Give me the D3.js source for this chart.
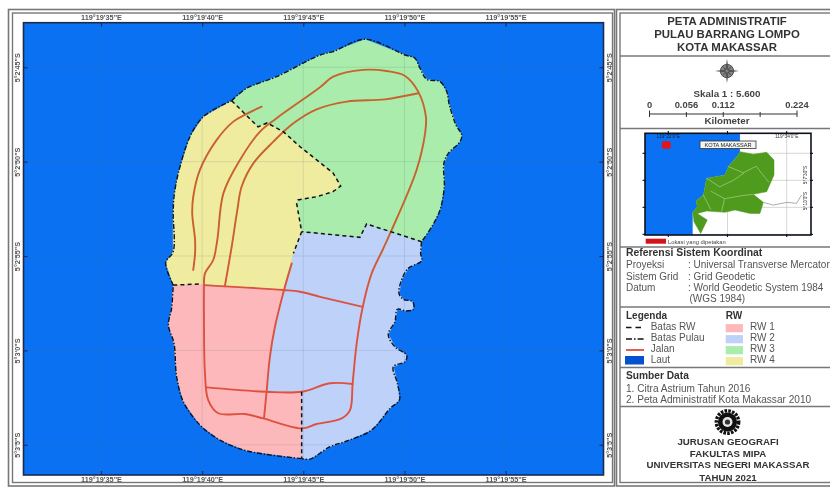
<!DOCTYPE html>
<html><head><meta charset="utf-8">
<style>
html,body{margin:0;padding:0;background:#fff}
svg{display:block;filter:blur(0.45px)}
text{font-family:"Liberation Sans",Arial,sans-serif;fill:#333}
</style>
<script src="https://cdn.jsdelivr.net/npm/d3@7/dist/d3.min.js"></script>
</head><body><svg id="c" width="830" height="487"></svg>
<script>
// ---- Map data: [longitude seconds after 119°19', latitude seconds after 5°2'] ----
const lonTicks=[35,40,45,50,55];
const lonLabels=['119°19\'35"E','119°19\'40"E','119°19\'45"E','119°19\'50"E','119°19\'55"E'];
const latTicks=[45,50,55,60,65];
const latLabels=['5°2\'45"S','5°2\'50"S','5°2\'55"S','5°3\'0"S','5°3\'5"S'];

const coastRW3=[[41.46,46.77],[42.20,46.11],[43.68,45.50],[45.83,44.35],[46.48,44.17],[48.05,43.52],[50.03,44.35],[50.52,44.52],[50.77,45.05],[51.10,45.64],[51.76,45.76],[52.09,46.29],[52.22,47.00],[52.55,48.06],[52.83,48.59],[52.75,48.94],[52.17,49.56],[51.95,50.09],[51.97,51.33],[51.76,52.56],[51.35,53.45],[50.85,54.24]];
const coastRW2=[[50.85,54.24],[50.80,54.86],[50.85,55.25],[50.19,55.65],[49.86,56.27],[49.73,56.98],[49.94,57.29],[50.41,57.42],[50.44,57.82],[50.08,57.91],[49.65,57.82],[49.53,58.48],[49.20,59.15],[49.53,59.81],[50.11,60.25],[50.03,60.60],[49.45,60.87],[49.65,61.74],[49.75,62.63],[49.29,63.07],[48.38,64.22],[47.15,64.80],[46.32,65.10],[45.33,65.76],[44.92,65.73]];
const coastRW1=[[44.92,65.73],[42.20,65.32],[40.88,64.75],[39.89,63.95],[39.07,62.72],[38.74,61.40],[38.61,59.63],[38.33,58.66],[38.49,57.77],[38.57,56.54]];
const coastRW4=[[38.57,56.54],[38.20,55.35],[38.57,54.77],[38.57,52.74],[38.61,51.86],[38.82,50.62],[39.40,48.68],[40.06,47.62],[41.46,46.77]];

const border34=[[41.46,46.77],[42.76,48.16],[43.21,47.95],[44.01,48.41],[44.84,49.21],[45.66,49.91],[46.47,50.60],[46.85,51.29],[46.47,51.59],[45.66,51.86],[44.74,52.03],[44.67,52.21],[44.92,53.71]];
const border24=[[44.92,53.71],[44.51,54.86],[44.01,56.80]];
const border14=[[44.01,56.80],[39.98,56.48],[38.57,56.54]];
const border23=[[50.85,54.24],[48.13,53.30],[47.80,54.01],[44.92,53.71]];
const border12=[[44.01,56.80],[43.60,58.75],[43.35,60.34],[43.19,62.14],[44.92,62.19],[44.92,65.73]];
const dashedWest=[[38.57,56.54],[39.98,56.48]];
const dashedSouth=[[44.92,62.19],[44.92,65.73]];

const roadWest=[[42.94,47.09],[42.20,47.47],[41.54,47.88],[40.72,48.85],[39.89,50.44],[39.56,51.86],[39.51,52.74],[39.65,54.15],[39.65,54.86],[39.56,55.74]];
const roadRing=[[40.09,56.54],[40.14,55.92],[40.55,55.21],[40.75,54.15],[41.05,51.68],[41.87,49.91],[42.86,48.41],[43.68,47.70],[45.83,46.06],[46.48,45.50],[47.97,45.14],[49.12,45.20],[50.03,45.46],[50.68,46.29],[51.06,47.62],[51.02,48.50],[50.60,50.44],[49.37,53.62],[48.92,54.68],[48.38,55.92],[47.94,57.69],[47.64,59.63],[47.44,61.74],[47.31,63.16],[46.90,63.60],[45.66,63.90],[44.92,64.13],[43.02,63.60],[42.12,63.37],[40.80,63.33],[40.30,62.63],[40.14,61.22],[40.09,58.22],[40.09,56.54]];
const roadInner=[[50.68,46.38],[49.04,46.70],[47.15,46.82],[45.66,47.23],[44.51,47.97],[43.52,48.94],[42.53,50.09],[41.95,51.33],[41.74,52.56],[41.46,54.51],[41.13,56.56]];
const roadCross=[[40.09,56.54],[44.01,56.80],[44.84,56.89],[45.83,57.16],[47.94,57.69]];
const roadSpine=[[44.43,55.39],[44.05,56.80],[43.60,58.75],[43.35,60.34],[43.19,62.14],[43.06,63.58]];
const roadSouth=[[40.22,61.96],[43.14,62.19],[44.92,62.19],[46.32,61.74],[47.44,61.78]];

// ---- Scale bar ----
const scaleTicks=[0,0.056,0.112,0.168,0.224];
const scaleLabels=[0,0.056,0.112,0.224];

// ---- Inset data: [minutes after 119°, minutes after 5°] ----
const insetLonTicks=[22,28,34];
const insetLatTicks=[2.5,5,7.5,10];
const insetLand=[[29.26,2.35],[29.09,2.65],[28.08,3.73],[27.74,4.51],[25.89,4.81],[25.55,6.36],[24.80,6.91],[24.94,7.44],[24.47,7.96],[24.60,8.83],[25.28,9.91],[25.95,8.67],[24.94,8.06],[25.89,7.84],[27.74,7.96],[28.76,7.75],[30.28,8.06],[31.29,8.06],[31.63,7.04],[30.61,6.30],[31.97,6.05],[32.71,4.51],[32.71,3.12],[31.97,2.41],[30.61,2.59]];
const insetCoast=[[29.26,0.65],[29.26,2.35],[29.09,2.65],[28.08,3.73],[27.74,4.51],[25.89,4.81],[25.55,6.36],[24.80,6.91],[24.94,7.44],[24.47,7.96],[24.47,10.06],[19.64,10.06],[19.64,0.65]];
const insetRiver=[[31.63,7.04],[32.64,7.29],[34,7.04],[35,7.13],[35.5,6.36]];
const insetDistricts=[[[28.08,3.73],[29.6,4.3],[30.9,3.7],[32.2,5.2]],[[25.89,4.81],[27.2,5.6],[28.6,5.0],[29.7,4.3]],[[26.3,6.0],[27.7,6.7],[29.6,6.4],[30.61,6.30]],[[25.55,6.36],[26.3,7.7]],[[27.7,6.7],[27.4,7.9]]];
const studySite=[[21.8,1.73]];

// ---- Legend lists ----
const titleLines=['PETA ADMINISTRATIF','PULAU BARRANG LOMPO','KOTA MAKASSAR'];
const rwNames=['RW 1','RW 2','RW 3','RW 4'];
const rwColors=['#fdb8bb','#bdd1f9','#a9ecab','#efec9f'];
const lineNames=['Batas RW','Batas Pulau','Jalan','Laut'];
const footerLines=['JURUSAN GEOGRAFI','FAKULTAS MIPA','UNIVERSITAS NEGERI MAKASSAR','TAHUN 2021'];
const sourceLines=['1. Citra Astrium Tahun 2016','2. Peta Administratif Kota Makassar 2010'];

const svg=d3.select('#c');
const SEA='#0a72f2', FRAME='#1b2a4e', GRAY='#777';
const grad=svg.append('defs').append('linearGradient').attr('id','roadTone').attr('gradientUnits','userSpaceOnUse').attr('x1',0).attr('x2',0).attr('y1',0).attr('y2',487);
[[0,'#c8642e'],[0.5,'#c9602e'],[0.6,'#dc5240'],[1,'#e0503e']].forEach(s=>grad.append('stop').attr('offset',s[0]).attr('stop-color',s[1]));
const ROAD='url(#roadTone)';

// ---- neatlines ----
function rect(x,y,w,h,s,sw){svg.append('rect').attr('x',x).attr('y',y).attr('width',w).attr('height',h).attr('fill','none').attr('stroke',s).attr('stroke-width',sw);}
rect(8.5,9.5,606,476.5,GRAY,1.6);
rect(12.5,13,600,469.5,GRAY,1.4);
rect(616.5,9.5,216,476.5,GRAY,1.6);
rect(620,13,216,469.5,GRAY,1.4);

// ---- main map ----
const x=d3.scaleLinear().domain([31.17,59.84]).range([23.5,603.5]);
const y=d3.scaleLinear().domain([42.64,66.60]).range([22.7,475]);
const g=svg.append('g');
g.append('rect').attr('x',x(31.17)).attr('y',y(42.64)).attr('width',x(59.84)-x(31.17)).attr('height',y(66.60)-y(42.64)).attr('fill',SEA);
const line=d3.line().x(d=>x(d[0])).y(d=>y(d[1]));
const smooth=d3.line().x(d=>x(d[0])).y(d=>y(d[1])).curve(d3.curveCatmullRom.alpha(0.5));
const rev=a=>a.slice().reverse();
const polys=[
 [rwColors[0],[...coastRW1,...rev(border14),...border12]],
 [rwColors[1],[...coastRW2,...rev(border12),...rev(border24),...rev(border23)]],
 [rwColors[2],[...coastRW3,...border23,...rev(border34)]],
 [rwColors[3],[...coastRW4,...border34,...border24,...border14]]
];
g.selectAll('path.rw').data(polys).join('path').attr('class','rw')
 .attr('d',d=>line(d[1])+'Z').attr('fill',d=>d[0]).attr('stroke',d=>d[0]).attr('stroke-width',0.5);
// graticule
lonTicks.forEach(t=>g.append('line').attr('x1',x(t)).attr('x2',x(t)).attr('y1',y.range()[0]).attr('y2',y.range()[1]).attr('stroke','#5a6e80').attr('stroke-opacity',0.2).attr('stroke-width',0.8));
latTicks.forEach(t=>g.append('line').attr('y1',y(t)).attr('y2',y(t)).attr('x1',x.range()[0]).attr('x2',x.range()[1]).attr('stroke','#5a6e80').attr('stroke-opacity',0.2).attr('stroke-width',0.8));
// roads
[roadWest,roadRing,roadInner,roadCross,roadSpine,roadSouth].forEach(r=>g.append('path').attr('d',smooth(r)).attr('fill','none').attr('stroke',ROAD).attr('stroke-width',1.9).attr('stroke-linejoin','round').attr('stroke-linecap','round'));
// administrative boundaries
[[...border34,...border24.slice(1,2)],border23,dashedWest,dashedSouth].forEach(b=>g.append('path').attr('d',line(b)).attr('fill','none').attr('stroke','#111').attr('stroke-width',1.5).attr('stroke-dasharray','4 3.2'));
// coast
[...[coastRW3,coastRW2,coastRW1,coastRW4]].forEach(c=>g.append('path').attr('d',smooth(c)).attr('fill','none').attr('stroke','#0d1420').attr('stroke-width',1.4).attr('stroke-dasharray','5 1.8 1.4 1.8'));
// frame + axes
g.append('rect').attr('x',x.range()[0]).attr('y',y.range()[0]).attr('width',x.range()[1]-x.range()[0]).attr('height',y.range()[1]-y.range()[0]).attr('fill','none').attr('stroke',FRAME).attr('stroke-width',1.6);
const lonFmt=(d,i)=>lonLabels[i], latFmt=(d,i)=>latLabels[i];
function style(a){a.select('.domain').remove();a.selectAll('.tick line').attr('stroke',FRAME).attr('stroke-width',1.1);a.selectAll('text').attr('font-size',7.3).attr('font-weight',700).attr('font-family','"Liberation Sans"').style('fill','#555');}
svg.append('g').attr('transform',`translate(0,${y.range()[0]})`).call(d3.axisTop(x).tickValues(lonTicks).tickFormat(lonFmt).tickSizeInner(-4).tickSizeOuter(0).tickPadding(2.7)).call(style);
svg.append('g').attr('transform',`translate(0,${y.range()[1]})`).call(d3.axisBottom(x).tickValues(lonTicks).tickFormat(lonFmt).tickSizeInner(-4).tickSizeOuter(0).tickPadding(2.3)).call(style);
const la=svg.append('g').attr('transform',`translate(${x.range()[0]},0)`).call(d3.axisLeft(y).tickValues(latTicks).tickFormat(latFmt).tickSizeInner(-4).tickSizeOuter(0).tickPadding(0)).call(style);
la.selectAll('text').attr('x',null).attr('dy',null).attr('text-anchor','middle').attr('transform','translate(-3.5,0) rotate(-90)');
const ra=svg.append('g').attr('transform',`translate(${x.range()[1]},0)`).call(d3.axisRight(y).tickValues(latTicks).tickFormat(latFmt).tickSizeInner(-4).tickSizeOuter(0).tickPadding(0)).call(style);
ra.selectAll('text').attr('x',null).attr('dy',null).attr('text-anchor','middle').attr('transform','translate(8,0) rotate(-90)');

// ---- side panel ----
[56,128.5,247,307,367.5,406.5].forEach(v=>{
 svg.append('line').attr('x1',620).attr('x2',830).attr('y1',v).attr('y2',v).attr('stroke',GRAY).attr('stroke-width',1.5);
});
function T(s,px,py,size,opts={}){const t=svg.append('text').attr('x',px).attr('y',py).attr('font-size',size).text(s);
 if(opts.b)t.attr('font-weight',700); if(opts.m)t.attr('text-anchor','middle'); if(opts.c)t.style('fill',opts.c); return t;}
titleLines.forEach((s,i)=>T(s,727,25+i*12.9,11.4,{b:1,m:1}));

// compass rose
const cx=727, cy=71;
const rose=svg.append('g').attr('transform',`translate(${cx},${cy})`);
rose.append('circle').attr('r',6.6).attr('fill','#8a8a8a').attr('stroke','#444').attr('stroke-width',1);
rose.append('circle').attr('r',3.4).attr('fill','none').attr('stroke','#ddd').attr('stroke-width',0.7);
[0,90,180,270].forEach(a=>rose.append('path').attr('d','M0,-12L1.6,-2L-1.6,-2Z').attr('transform',`rotate(${a})`).attr('fill','#555'));
[45,135,225,315].forEach(a=>rose.append('path').attr('d','M0,-8L1,-1L-1,-1Z').attr('transform',`rotate(${a})`).attr('fill','#555'));

// scale bar
T('Skala 1 : 5.600',727,97,9.8,{b:1,m:1,c:'#444'});
const sb=d3.scaleLinear().domain([0,0.224]).range([649.5,797]);
svg.append('line').attr('x1',sb(0)).attr('x2',sb(0.224)).attr('y1',114).attr('y2',114).attr('stroke','#333').attr('stroke-width',1.2);
scaleTicks.forEach(t=>svg.append('line').attr('x1',sb(t)).attr('x2',sb(t)).attr('y1',t===0||t===0.224?110.5:112).attr('y2',117).attr('stroke','#333').attr('stroke-width',1));
scaleLabels.forEach(t=>T(String(t),sb(t),108.3,9.4,{b:1,m:1,c:'#444'}));
T('Kilometer',727,124,9.8,{b:1,m:1,c:'#444'});

// ---- inset ----
const ix=d3.scaleLinear().domain([19.64,36.46]).range([645,811]);
const iy=d3.scaleLinear().domain([0.65,10.06]).range([133.3,235]);
const il=d3.line().x(d=>ix(d[0])).y(d=>iy(d[1]));
const inset=svg.append('g');
inset.append('rect').attr('x',645).attr('y',133.3).attr('width',166).attr('height',101.7).attr('fill','#fff');
insetLonTicks.forEach(t=>inset.append('line').attr('x1',ix(t)).attr('x2',ix(t)).attr('y1',133).attr('y2',235).attr('stroke','#bbb').attr('stroke-width',0.6));
insetLatTicks.forEach(t=>inset.append('line').attr('y1',iy(t)).attr('y2',iy(t)).attr('x1',645).attr('x2',811).attr('stroke','#bbb').attr('stroke-width',0.6));
inset.append('path').attr('d',il(insetCoast)+'Z').attr('fill',SEA);
inset.append('path').attr('d',il(insetLand)+'Z').attr('fill','#4f9b1e').attr('stroke','#4f9b1e').attr('stroke-width',0.5);
inset.append('path').attr('d',il(insetRiver)).attr('fill','none').attr('stroke','#888').attr('stroke-width',0.7);
insetDistricts.forEach(d=>inset.append('path').attr('d',il(d)).attr('fill','none').attr('stroke','#b9d99a').attr('stroke-width',0.6));
inset.selectAll('rect.site').data(studySite).join('rect').attr('class','site').attr('x',d=>ix(d[0])-4.5).attr('y',d=>iy(d[1])-3.8).attr('width',9).attr('height',7.6).attr('rx',2).attr('fill','#e0151f');
inset.append('rect').attr('x',645).attr('y',133.3).attr('width',166).attr('height',101.7).attr('fill','none').attr('stroke','#0c1020').attr('stroke-width',1.6);
insetLonTicks.forEach(t=>{[[131,134.5],[234,237]].forEach(p=>inset.append('line').attr('x1',ix(t)).attr('x2',ix(t)).attr('y1',p[0]).attr('y2',p[1]).attr('stroke','#111').attr('stroke-width',1.1));});
insetLatTicks.forEach(t=>{[[642.5,646],[810,813]].forEach(p=>inset.append('line').attr('y1',iy(t)).attr('y2',iy(t)).attr('x1',p[0]).attr('x2',p[1]).attr('stroke','#111').attr('stroke-width',1.1));});
T('119°22\'0"E',ix(22),138,4.8,{m:1,c:'#123'});
T('119°34\'0"E',ix(34),138,4.8,{m:1,c:'#333'});
inset.append('rect').attr('x',700).attr('y',141).attr('width',56).attr('height',7.5).attr('fill','#f4f4f4').attr('stroke','#333').attr('stroke-width',0.8);
T('KOTA MAKASSAR',728,147,5.6,{m:1,c:'#222'});
T('5°10\'0"S',0,0,4.8,{m:1}).attr('transform','translate(807,201) rotate(-90)');
T('5°7\'30"S',0,0,4.8,{m:1}).attr('transform','translate(807,175) rotate(-90)');
svg.append('rect').attr('x',645.7).attr('y',238.7).attr('width',20.3).attr('height',5).attr('fill','#d2141c');
T('Lokasi yang dipetakan',668,243.6,5.8,{c:'#444'});

// ---- reference ----
T('Referensi Sistem Koordinat',626,256,10.4,{b:1});
T('Proyeksi',626,268,10,{c:'#555'});T(': Universal Transverse Mercator',688,268,10,{c:'#555'});
T('Sistem Grid',626,279.5,10,{c:'#555'});T(': Grid Geodetic',688,279.5,10,{c:'#555'});
T('Datum',626,290.5,10,{c:'#555'});T(': World Geodetic System 1984',688,290.5,10,{c:'#555'});
T('(WGS 1984)',689.5,301.5,10,{c:'#555'});

// ---- legend ----
T('Legenda',626,319,10,{b:1});T('RW',725.7,319,10,{b:1});
const rowY=[330,341,352,363];
lineNames.forEach((s,i)=>T(s,650.7,rowY[i],10,{c:'#555'}));
rwNames.forEach((s,i)=>{T(s,750,rowY[i],10,{c:'#555'});
 svg.append('rect').attr('x',725.7).attr('y',rowY[i]-5.9).attr('width',17.3).attr('height',8.2).attr('fill',rwColors[i]);});
svg.append('line').attr('x1',626).attr('x2',644).attr('y1',327.5).attr('y2',327.5).attr('stroke','#111').attr('stroke-width',1.6).attr('stroke-dasharray','5.5 4');
svg.append('line').attr('x1',626).attr('x2',644).attr('y1',339).attr('y2',339).attr('stroke','#111').attr('stroke-width',1.5).attr('stroke-dasharray','6 2 1.6 2');
svg.append('line').attr('x1',626).attr('x2',644).attr('y1',350).attr('y2',350).attr('stroke','#dc5a44').attr('stroke-width',1.9);
svg.append('rect').attr('x',625).attr('y',356).attr('width',19).attr('height',8.5).attr('fill','#0552cf');

// ---- sources ----
T('Sumber Data',626,379,10.2,{b:1});
sourceLines.forEach((s,i)=>T(s,626,391.7+i*11,10.1,{c:'#555'}));

// ---- logo ----
const lg=svg.append('g').attr('transform','translate(727.5,422)');
lg.append('circle').attr('r',11.2).attr('fill','none').attr('stroke','#111').attr('stroke-width',3.4).attr('stroke-dasharray','2.6 1.2');
lg.append('circle').attr('r',9.6).attr('fill','#111');
lg.append('circle').attr('r',5).attr('fill','#e9e9e9');
lg.append('circle').attr('r',2.6).attr('fill','#333');

footerLines.forEach((s,i)=>T(s,728,[445,457.3,468.3,480.7][i],9.7,{b:1,m:1}));
</script></body></html>
